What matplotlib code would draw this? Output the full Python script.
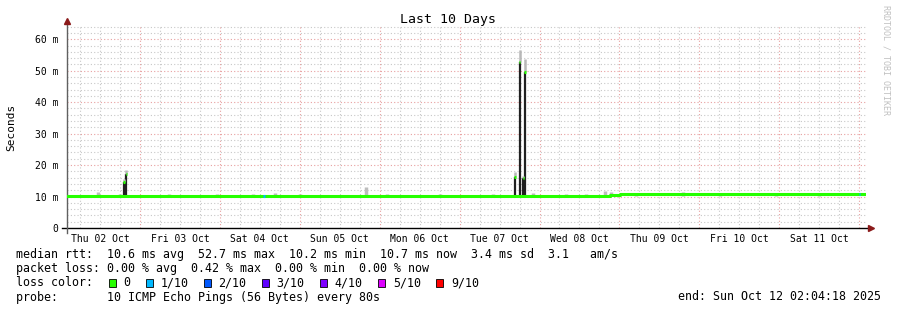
import numpy as np
import matplotlib
matplotlib.use("Agg")
import matplotlib.pyplot as plt
from matplotlib.patches import Rectangle

# time axis: hours since start (Thu Oct 02 02:04:18), 10 days = 240 h
START_OFFSET_H = 2 + 4 / 60 + 18 / 3600
day_labels = ["Thu 02 Oct", "Fri 03 Oct", "Sat 04 Oct", "Sun 05 Oct", "Mon 06 Oct",
              "Tue 07 Oct", "Wed 08 Oct", "Thu 09 Oct", "Fri 10 Oct", "Sat 11 Oct"]

# median rtt baseline (ms), step changes at these hours
base_hours = [0.0, 163.0, 166.2, 240.0]
base_median = [10.25, 10.45, 10.75, 10.75]

# spikes: hour, median (ms), smoke top (ms)
spike_hours = [17.1, 17.85, 134.55, 136.0, 137.1, 137.55]
spike_median = [14.5, 17.3, 16.3, 52.8, 16.0, 49.5]
spike_top = [15.5, 18.4, 17.9, 56.5, 16.6, 53.6]

# small smoke bumps above the baseline: hour, top (ms)
bump_hours = [9.3, 16.0, 30.5, 45.0, 56.0, 62.5, 70.0, 89.7, 96.0, 112.0,
              128.0, 140.0, 150.0, 156.0, 161.7, 163.5, 171.0, 185.0, 196.0, 213.0, 226.0]
bump_top = [11.4, 10.9, 10.9, 10.9, 10.9, 11.2, 10.8, 13.1, 10.8, 10.8,
            10.8, 11.0, 10.9, 10.9, 11.9, 11.4, 11.2, 11.3, 11.2, 11.2, 11.1]

# points with 1/10 loss
loss_hours = [59.1, 238.0]

loss_labels = ["0", "1/10", "2/10", "3/10", "4/10", "5/10", "9/10"]
loss_colors = ["#26ff00", "#00b8ff", "#0059ff", "#5e00ff", "#7e00ff", "#dd00ff", "#ff0000"]

rtt_stats = [10.6, 52.7, 10.2, 10.7, 3.4]
rtt_am_s = 3.1
loss_stats = [0.00, 0.42, 0.00, 0.00]

W, H = 897, 310
fig = plt.figure(figsize=(W / 100, H / 100), dpi=100)
fig.patch.set_facecolor("white")
L, R, T, B = 67, 866, 26, 228
ax = fig.add_axes([L / W, 1 - B / H, (R - L) / W, (B - T) / H])
ymax = 64.2
ax.set_xlim(0, 240)
ax.set_ylim(0, ymax)
mono = "DejaVu Sans Mono"

# grid
midnights = [24 * d - START_OFFSET_H for d in range(1, 11)]
sixes = [6 * k - START_OFFSET_H for k in range(1, 41)]
for h in sixes:
    if 0 < h < 240 and not any(abs(h - m) < 1e-6 for m in midnights):
        ax.axvline(h, color="#c8c8c8", lw=0.8, ls=(0, (1, 2)), zorder=0)
for v in np.arange(2, ymax, 2):
    if v % 10 != 0:
        ax.axhline(v, color="#c8c8c8", lw=0.8, ls=(0, (1, 2)), zorder=0)
for h in midnights:
    if 0 < h < 240:
        ax.axvline(h, color="#e8a0a0", lw=0.8, ls=(0, (1, 2)), zorder=0)
for v in range(10, 61, 10):
    ax.axhline(v, color="#e8a0a0", lw=0.8, ls=(0, (1, 2)), zorder=0)

# smoke bumps
ax.vlines(bump_hours, 10.2, bump_top, color="#bdbdbd", lw=2.5, zorder=2)

# spikes: dark smoke up to median, light smoke above
base0 = base_median[0]
ax.vlines(spike_hours, base0, spike_median, color="#202020", lw=1.6, zorder=3)
ax.vlines(spike_hours, spike_median, spike_top, color="#b8b8b8", lw=1.8, zorder=3)

# median line
ax.step(base_hours, base_median, where="post", color=loss_colors[0], lw=2.2, zorder=4)
for h, m in zip(spike_hours, spike_median):
    ax.hlines(m, h - 0.2, h + 0.2, color=loss_colors[0], lw=2.2, zorder=5)
for h in loss_hours:
    m = np.interp(h, base_hours, base_median)
    ax.hlines(m, h - 0.25, h + 0.25, color=loss_colors[1], lw=2.2, zorder=5)

# axes
for s in ax.spines.values():
    s.set_visible(False)
ax.plot([-5 / 799, 1 + 2 / 799], [0, 0], transform=ax.transAxes, color="black", lw=1, clip_on=False)
ax.plot([0, 0], [-5 / 202, 1.01], transform=ax.transAxes, color="#606060", lw=1, clip_on=False)
ax.plot([1 + 5 / 799], [0], transform=ax.transAxes, marker=">", color="#8b1a1a", ms=4, clip_on=False)
ax.plot([0], [1 + 5 / 202], transform=ax.transAxes, marker="^", color="#8b1a1a", ms=4, clip_on=False)

ax.set_yticks(range(0, 61, 10))
ax.set_yticklabels(["0"] + ["%d m" % v for v in range(10, 61, 10)], fontfamily=mono, fontsize=7)
ax.set_xticks([12 * (2 * d + 1) - START_OFFSET_H for d in range(10)])
ax.set_xticklabels(day_labels, fontfamily=mono, fontsize=7)
ax.tick_params(length=0, pad=4)
ax.tick_params(axis="y", pad=6)

fig.text(448 / W, 1 - 20 / H, "Last 10 Days", ha="center", va="center", fontfamily=mono, fontsize=9.5)
fig.text(11 / W, 1 - 127 / H, "Seconds", ha="center", va="center", rotation=90, fontfamily=mono, fontsize=8)
fig.text(886 / W, 1 - 5 / H, "RRDTOOL / TOBI OETIKER", ha="center", va="top", rotation=270,
         fontfamily=mono, fontsize=6, color="#c0c0c0")

# legend
fs = 8.4
cw = 0.602 * fs * 100 / 72
line1 = "median rtt:  %.1f ms avg  %.1f ms max  %.1f ms min  %.1f ms now  %.1f ms sd  %.1f   am/s" % (
    tuple(rtt_stats) + (rtt_am_s,))
line2 = "packet loss: %.2f %% avg  %.2f %% max  %.2f %% min  %.2f %% now" % tuple(loss_stats)
ys = [254.5, 268.5, 283, 297]
fig.text(16 / W, 1 - ys[0] / H, line1, ha="left", va="center", fontfamily=mono, fontsize=fs)
fig.text(16 / W, 1 - ys[1] / H, line2, ha="left", va="center", fontfamily=mono, fontsize=fs)
fig.text(16 / W, 1 - ys[2] / H, "loss color:", ha="left", va="center", fontfamily=mono, fontsize=fs)
fig.text(16 / W, 1 - ys[3] / H, "probe:       10 ICMP Echo Pings (56 Bytes) every 80s",
         ha="left", va="center", fontfamily=mono, fontsize=fs)
fig.text(881 / W, 1 - ys[3] / H, "end: Sun Oct 12 02:04:18 2025", ha="right", va="center",
         fontfamily=mono, fontsize=fs)

sq = 109.0
for lab, col in zip(loss_labels, loss_colors):
    fig.patches.append(Rectangle((sq / W, 1 - (ys[2] + 4) / H), 7 / W, 8 / H, transform=fig.transFigure,
                                 facecolor=col, edgecolor="black", lw=0.6))
    tx = sq + 14.5
    fig.text(tx / W, 1 - ys[2] / H, lab, ha="left", va="center", fontfamily=mono, fontsize=fs)
    sq = tx + cw * len(lab) + 15.5

fig.savefig("out.png", dpi=100)
